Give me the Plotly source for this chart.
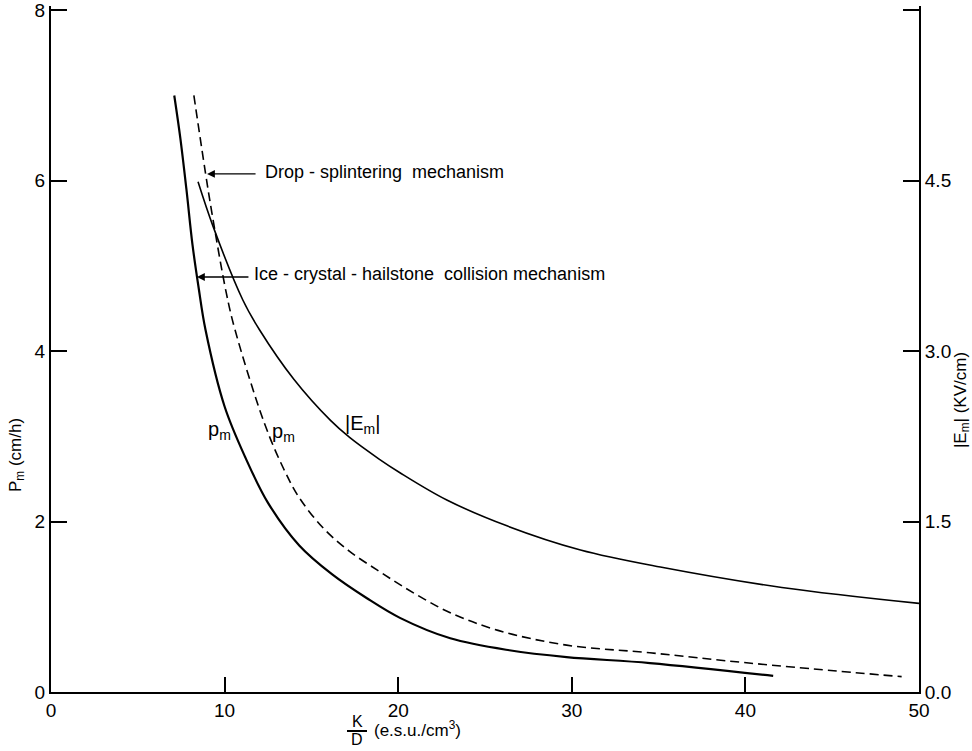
import plotly.graph_objects as go

# Ice-crystal-hailstone collision mechanism (solid Pm), left axis cm/h
ice_x = [7.1, 7.45, 7.8, 8.15, 8.5, 8.9, 10.0, 11.2, 12.5, 14.3, 16.2, 18.2, 20.1, 23.0, 26.4, 29.7, 34.5, 41.6]
ice_y = [7.0, 6.5, 5.9, 5.25, 4.75, 4.25, 3.35, 2.75, 2.22, 1.72, 1.38, 1.10, 0.87, 0.63, 0.49, 0.41, 0.34, 0.19]

# Drop-splintering mechanism (dashed Pm), left axis cm/h
drop_x = [8.23, 8.9, 9.27, 10.1, 10.6, 12.3, 13.4, 14.3, 15.7, 17.2, 18.8, 20.1, 21.5, 23.0, 25.8, 29.7, 34.5, 40.2, 49.0]
drop_y = [7.0, 6.09, 5.62, 4.68, 4.25, 3.15, 2.62, 2.28, 1.92, 1.65, 1.43, 1.26, 1.09, 0.93, 0.72, 0.55, 0.46, 0.34, 0.18]

# |Em| curve, right axis KV/cm
em_x = [8.47, 9.33, 11.05, 12.0, 14.0, 16.1, 17.2, 18.9, 20.1, 22.8, 26.3, 30.5, 35.1, 42.1, 50.0]
em_y = [4.49, 4.10, 3.45, 3.19, 2.75, 2.39, 2.24, 2.05, 1.93, 1.69, 1.46, 1.25, 1.10, 0.92, 0.78]

x_ticks = [0, 10, 20, 30, 40, 50]
y_ticks = [0, 2, 4, 6, 8]
y2_ticks = [0, 1.5, 3.0, 4.5, 6.0]
y2_text = ["0.0", "1.5", "3.0", "4.5", ""]

FONT = "Liberation Sans"

fig = go.Figure()
fig.add_trace(go.Scatter(x=ice_x, y=ice_y, mode="lines", line=dict(color="black", width=2.2, shape="spline", smoothing=1.0), showlegend=False))
fig.add_trace(go.Scatter(x=drop_x, y=drop_y, mode="lines", line=dict(color="black", width=1.6, dash="9px,5px", shape="spline", smoothing=1.0), showlegend=False))
fig.add_trace(go.Scatter(x=em_x, y=em_y, mode="lines", yaxis="y2", line=dict(color="black", width=1.6, shape="spline", smoothing=1.0), showlegend=False))

W, H = 972, 751
Y_TOP = 8.05
Y2_TOP = 6.0 * Y_TOP / 8.0
L, R, B = 51, 53, 59
ph = (H - B - 10) * Y_TOP / 8.0
T = H - B - ph
pw = W - L - R

def px(x):
    return (x - L) / pw

def py(y):
    return (H - B - y) / ph

tickfont = dict(family=FONT, size=19, color="black")
common = dict(ticks="inside", tickwidth=1.5, tickcolor="black", showline=True, linecolor="black", linewidth=2,
              showgrid=False, zeroline=False, tickfont=tickfont, ticklabeloverflow="allow", automargin=False)
fig.update_layout(
    width=W, height=H,
    margin=dict(l=L, r=R, t=T, b=B, autoexpand=False),
    paper_bgcolor="white", plot_bgcolor="white",
    xaxis=dict(range=[0, 50], tickvals=x_ticks, ticklen=15, **common),
    yaxis=dict(range=[0, Y_TOP], tickvals=y_ticks, ticklen=16, **common),
    yaxis2=dict(range=[0, Y2_TOP], tickvals=y2_ticks, ticktext=y2_text, overlaying="y", side="right",
                ticklen=16, **common),
    font=dict(family=FONT, color="black"),
)

ann = []
ann.append(dict(x=8.99, y=6.08, ax=11.87, ay=6.08, xref="x", yref="y", axref="x", ayref="y", text="",
                showarrow=True, arrowhead=2, arrowsize=1.2, arrowwidth=1.3, arrowcolor="black"))
ann.append(dict(x=8.41, y=4.87, ax=11.46, ay=4.87, xref="x", yref="y", axref="x", ayref="y", text="",
                showarrow=True, arrowhead=2, arrowsize=1.2, arrowwidth=1.3, arrowcolor="black"))
ann.append(dict(x=12.2, y=6.1, xref="x", yref="y", text="Drop - splintering  mechanism", showarrow=False,
                xanchor="left", yanchor="middle", font=dict(family=FONT, size=18)))
ann.append(dict(x=11.6, y=4.9, xref="x", yref="y", text="Ice - crystal - hailstone  collision mechanism", showarrow=False,
                xanchor="left", yanchor="middle", font=dict(family=FONT, size=18)))
ann.append(dict(x=9.73, y=3.07, xref="x", yref="y", text="p<sub>m</sub>", showarrow=False,
                xanchor="center", yanchor="middle", font=dict(family=FONT, size=20)))
ann.append(dict(x=13.42, y=3.05, xref="x", yref="y", text="p<sub>m</sub>", showarrow=False,
                xanchor="center", yanchor="middle", font=dict(family=FONT, size=20)))
ann.append(dict(x=17.97, y=3.14, xref="x", yref="y", text="|E<sub>m</sub>|", showarrow=False,
                xanchor="center", yanchor="middle", font=dict(family=FONT, size=20)))
ann.append(dict(x=px(17), y=py(455), xref="paper", yref="paper", text="P<sub>m</sub> (cm/h)", showarrow=False,
                textangle=-90, xanchor="center", yanchor="middle", font=dict(family=FONT, size=17)))
ann.append(dict(x=px(962), y=py(400), xref="paper", yref="paper", text="|E<sub>m</sub>| (KV/cm)", showarrow=False,
                textangle=-90, xanchor="center", yanchor="middle", font=dict(family=FONT, size=17)))
ann.append(dict(x=px(357), y=py(722), xref="paper", yref="paper", text="K", showarrow=False,
                xanchor="center", yanchor="middle", font=dict(family=FONT, size=16)))
ann.append(dict(x=px(357), y=py(740), xref="paper", yref="paper", text="D", showarrow=False,
                xanchor="center", yanchor="middle", font=dict(family=FONT, size=16)))
ann.append(dict(x=px(372), y=py(729), xref="paper", yref="paper", text="(e.s.u./cm<sup>3</sup>)", showarrow=False,
                xanchor="left", yanchor="middle", font=dict(family=FONT, size=17)))
fig.update_layout(annotations=ann)
fig.add_shape(type="line", xref="paper", yref="paper", x0=px(347), x1=px(367), y0=py(731), y1=py(731),
              line=dict(color="black", width=2))

fig.write_html("out.html")
